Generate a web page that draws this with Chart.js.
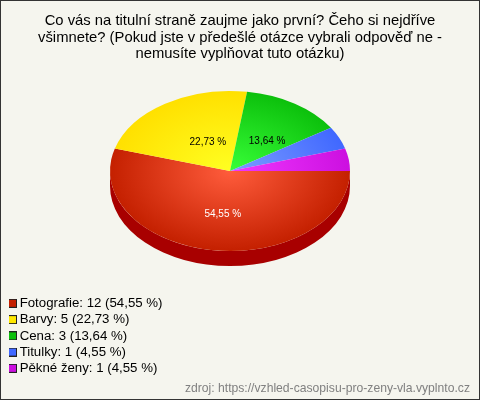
<!DOCTYPE html>
<html><head><meta charset="utf-8">
<style>html,body{margin:0;padding:0;background:#f5f5ee}canvas{display:block}</style>
<script src="https://cdn.jsdelivr.net/npm/chart.js@4"></script>
</head><body><canvas id="c" width="480" height="400"></canvas>
<script>
const categories = ["Fotografie","Barvy","Cena","Titulky","Pěkné ženy"];
const values = [12,5,3,1,1];
const percents = ["54,55 %","22,73 %","13,64 %","4,55 %","4,55 %"];
const sliceLabels = ["54,55 %","22,73 %","13,64 %","",""];
const labelColors = ["#ffffff","#000000","#000000","#000000","#000000"];
const innerColors = ["#ff5c3c","#ffff22","#38ff38","#7c9cff","#f038ff"];
const outerColors = ["#c42000","#ffe000","#0cc00c","#4068ff","#cc10e0"];
const legendColors = ["#c42000","#ffe800","#0cc00c","#4068ff","#cc10e0"];
const titleLines = ["Co vás na titulní straně zaujme jako první? Čeho si nejdříve","všimnete? (Pokud jste v předešlé otázce vybrali odpověď ne -","nemusíte vyplňovat tuto otázku)"];
const sourceText = "zdroj: https://vzhled-casopisu-pro-zeny-vla.vyplnto.cz";
const squash = 0.667, depth = 15, pieCenterX = 230, pieCenterY = 171, sideColor = "#a80000";
const labelNudge = [[1,5],[9,4],[6,3],[0,0],[0,0]];
const FONT = "'Liberation Sans', Arial, sans-serif";

function swatch(color){
  const s=document.createElement('canvas');s.width=9;s.height=9;
  const g=s.getContext('2d');
  g.fillStyle="#222";g.fillRect(0,0,9,9);
  g.fillStyle=color;g.fillRect(1,1,7,7);
  return s;
}
const swatches = legendColors.map(swatch);

const tilt = {
  id:'tilt',
  beforeDraw(chart){
    const {ctx,width,height}=chart;
    ctx.save();
    ctx.fillStyle="#f5f5ee";ctx.fillRect(0,0,width,height);
    ctx.strokeStyle="#333333";ctx.lineWidth=1;ctx.strokeRect(0.5,0.5,width-1,height-1);
    ctx.restore();
  },
  afterLayout(chart){
    const l=chart.legend;
    l.left=9;l.bottom=378;
  },
  beforeDatasetDraw(chart,args){
    const ctx=chart.ctx, arcs=args.meta.data, a0=arcs[0];
    const R=a0.outerRadius, ry=R*squash;
    ctx.save();
    ctx.fillStyle=sideColor;
    arcs.forEach(arc=>{
      const a=Math.max(arc.startAngle,0), b=Math.min(arc.endAngle,Math.PI);
      if(b<=a) return;
      ctx.beginPath();
      ctx.ellipse(pieCenterX,pieCenterY+depth,R,ry,0,a,b,false);
      ctx.ellipse(pieCenterX,pieCenterY,R,ry,0,b,a,true);
      ctx.closePath();ctx.fill();
    });
    ctx.restore();
    ctx.save();
    ctx.translate(pieCenterX,pieCenterY);
    ctx.scale(1,squash);
    ctx.translate(-a0.x,-a0.y);
  },
  afterDatasetDraw(chart){ chart.ctx.restore(); },
  afterDatasetsDraw(chart){
    const ctx=chart.ctx, arcs=chart.getDatasetMeta(0).data;
    ctx.save();
    ctx.font="10px "+FONT;ctx.textAlign="center";ctx.textBaseline="middle";
    arcs.forEach((arc,i)=>{
      if(!sliceLabels[i]) return;
      const m=(arc.startAngle+arc.endAngle)/2, r=arc.outerRadius*0.48;
      ctx.fillStyle=labelColors[i];
      ctx.fillText(sliceLabels[i],pieCenterX+Math.cos(m)*r+labelNudge[i][0],pieCenterY+Math.sin(m)*r*squash+labelNudge[i][1]);
    });
    ctx.restore();
  }
};
function sliceFill(c){
  const chart=c.chart, area=chart.chartArea, i=c.dataIndex;
  if(!area||i===undefined) return outerColors[i||0];
  const x=(area.left+area.right)/2,y=(area.top+area.bottom)/2;
  const g=chart.ctx.createRadialGradient(x,y,0,x,y,120);
  g.addColorStop(0,innerColors[i]);g.addColorStop(1,outerColors[i]);
  return g;
}
new Chart(document.getElementById('c'),{
  type:'pie',
  data:{labels:categories,datasets:[{data:values,backgroundColor:sliceFill,borderWidth:0,clip:false}]},
  plugins:[tilt],
  options:{
    responsive:false,animation:false,events:[],
    rotation:90,radius:120,
    layout:{padding:{left:10,right:10,top:10,bottom:0}},
    plugins:{
      tooltip:{enabled:false},
      title:{display:true,text:titleLines,color:"#000",font:{family:FONT,size:14.8,weight:'normal',lineHeight:1.1},padding:{top:3,bottom:4}},
      subtitle:{display:true,position:'bottom',align:'end',text:sourceText,color:"#808080",font:{family:FONT,size:12.17,weight:'normal'},padding:{top:2,bottom:4}},
      legend:{position:'chartArea',align:'end',labels:{
        boxWidth:9,boxHeight:9,padding:3,usePointStyle:true,pointStyleWidth:1,color:"#000",font:{family:FONT,size:13.25},
        generateLabels(){return categories.map((n,i)=>({text:n+": "+values[i]+" ("+percents[i]+")",fillStyle:legendColors[i],pointStyle:swatches[i],lineWidth:0,index:i}));}
      }}
    }
  }
});
</script></body></html>
